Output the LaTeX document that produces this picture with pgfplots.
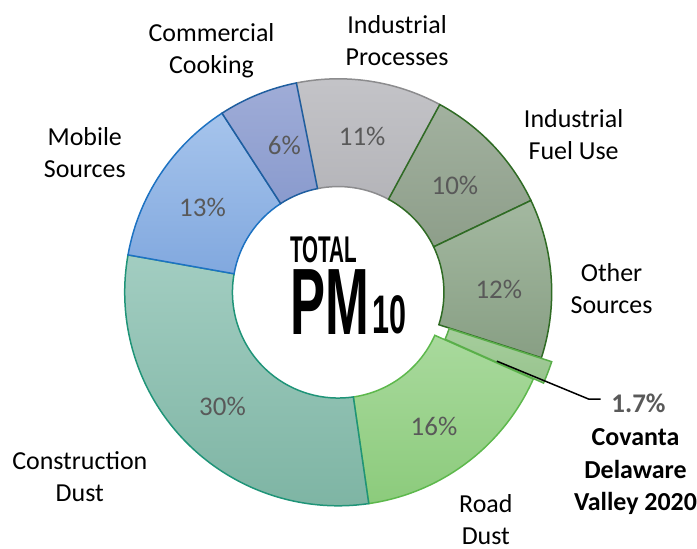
\documentclass[border=0pt]{standalone}
\usepackage{graphicx}
\usepackage{pgfplots}
\pgfplotsset{compat=1.18}
\usepackage{fontspec}
\setmainfont{Carlito}
\newfontfamily\titlefont{Liberation Sans}

\definecolor{ipT}{HTML}{C4C4C8}\definecolor{ipB}{HTML}{A9A9AE}\definecolor{ipL}{HTML}{8C8C8E}
\definecolor{ifT}{HTML}{A2B19F}\definecolor{ifB}{HTML}{879883}\definecolor{ifL}{HTML}{2F6B24}
\definecolor{osT}{HTML}{A3B8A0}\definecolor{osB}{HTML}{889F84}\definecolor{osL}{HTML}{2F6B24}
\definecolor{cvT}{HTML}{AED3A5}\definecolor{cvB}{HTML}{98C48E}\definecolor{cvL}{HTML}{5AAE4A}
\definecolor{rdT}{HTML}{B0DDA5}\definecolor{rdB}{HTML}{8CCB7C}\definecolor{rdL}{HTML}{5DB84C}
\definecolor{cdT}{HTML}{A2CDC1}\definecolor{cdB}{HTML}{7DB4A3}\definecolor{cdL}{HTML}{1F9478}
\definecolor{msT}{HTML}{A6C4EC}\definecolor{msB}{HTML}{7DA5DD}\definecolor{msL}{HTML}{1D72C2}
\definecolor{ccT}{HTML}{9FACD7}\definecolor{ccB}{HTML}{7A8EC7}\definecolor{ccL}{HTML}{1F5E9F}
\definecolor{pct}{HTML}{595959}

% slice values (percent), clockwise from Industrial Processes
\def\vIP{11}\def\vIF{10}\def\vOS{12}\def\vCV{1.7}\def\vRD{16}\def\vCD{30}\def\vMS{13}\def\vCC{6}
\pgfmathsetmacro\tot{\vIP+\vIF+\vOS+\vCV+\vRD+\vCD+\vMS+\vCC}
\pgfmathsetmacro\aA{101.3}
\pgfmathsetmacro\aB{\aA-\vIP*360/\tot}
\pgfmathsetmacro\aC{\aB-\vIF*360/\tot}
\pgfmathsetmacro\aD{\aC-\vOS*360/\tot}
\pgfmathsetmacro\aE{\aD-\vCV*360/\tot}
\pgfmathsetmacro\aF{\aE-\vRD*360/\tot}
\pgfmathsetmacro\aG{\aF-\vCD*360/\tot}
\pgfmathsetmacro\aH{\aG-\vMS*360/\tot}
\pgfmathsetmacro\aI{\aH-\vCC*360/\tot}
\pgfmathsetmacro\mCV{(\aD+\aE)/2}

\newcommand{\slice}[6]{%
  \path[draw=#5, line width=1.5bp, top color=#3, bottom color=#4, #6]
    (axis cs:339,257) ++(#1:214bp) arc[start angle=#1, end angle=#2, radius=214bp]
    -- ++(#2:-108bp) arc[start angle=#2, end angle=#1, radius=106bp] -- cycle;}

\begin{document}
\begin{tikzpicture}
\begin{axis}[x=1bp, y=1bp, xmin=0, xmax=697, ymin=0, ymax=550,
  hide axis, clip=false]
\path (axis cs:0,0) rectangle (axis cs:697,550);
\slice{\aA}{\aB}{ipT}{ipB}{ipL}{}
\slice{\aB}{\aC}{ifT}{ifB}{ifL}{}
\slice{\aC}{\aD}{osT}{osB}{osL}{}
\slice{\aE}{\aF}{rdT}{rdB}{rdL}{}
\slice{\aF}{\aG}{cdT}{cdB}{cdL}{}
\slice{\aG}{\aH}{msT}{msB}{msL}{}
\slice{\aH}{\aI}{ccT}{ccB}{ccL}{}
\slice{\aD}{\aE}{cvT}{cvB}{cvL}{shift={(\mCV:11bp)}}

% percentage labels
\begin{scope}[every node/.style={font=\fontsize{27bp}{32bp}\selectfont, text=pct}]
\node at (axis cs:363,413) {11\%};
\node at (axis cs:456,364) {10\%};
\node at (axis cs:500,260) {12\%};
\node at (axis cs:435,123) {16\%};
\node at (axis cs:223,143) {30\%};
\node at (axis cs:203,342) {13\%};
\node at (axis cs:285,404) {6\%};
\end{scope}

% category labels
\begin{scope}[every node/.style={font=\fontsize{26bp}{32bp}\selectfont, align=center, text=black}]
\node at (axis cs:212,499) {Commercial\\Cooking};
\node at (axis cs:398,509.5) {Industrial\\Processes};
\node at (axis cs:575,415.5) {Industrial\\Fuel Use};
\node at (axis cs:613,260.5) {Other\\Sources};
\node at (axis cs:85,397.5) {Mobile\\Sources};
\node at (axis cs:80,72) {Construction\\Dust};
\node[anchor=south, inner sep=0] at (axis cs:487,4) {Road\\Dust};
\end{scope}

% Covanta callout
\draw[black, line width=1.5bp] (axis cs:498,188) -- (axis cs:590,150) -- (axis cs:602,150);
\node[font=\fontsize{27bp}{32bp}\selectfont\bfseries, text=pct] at (axis cs:640,146) {1.7\%};
\node[font=\fontsize{26bp}{32.5bp}\selectfont\bfseries, align=center, anchor=south, inner sep=0] at (axis cs:637,34) {Covanta\\Delaware\\Valley 2020};

% centre title
\node[anchor=south west, inner sep=0] at (axis cs:291,286) {\resizebox{67bp}{26bp}{\titlefont\bfseries TOTAL}};
\node[anchor=south west, inner sep=0] at (axis cs:291,215) {\resizebox{79bp}{65bp}{\titlefont\bfseries PM}};
\node[anchor=south west, inner sep=0] at (axis cs:373,215) {\resizebox{34bp}{38bp}{\titlefont\bfseries 10}};
\end{axis}
\end{tikzpicture}
\end{document}
